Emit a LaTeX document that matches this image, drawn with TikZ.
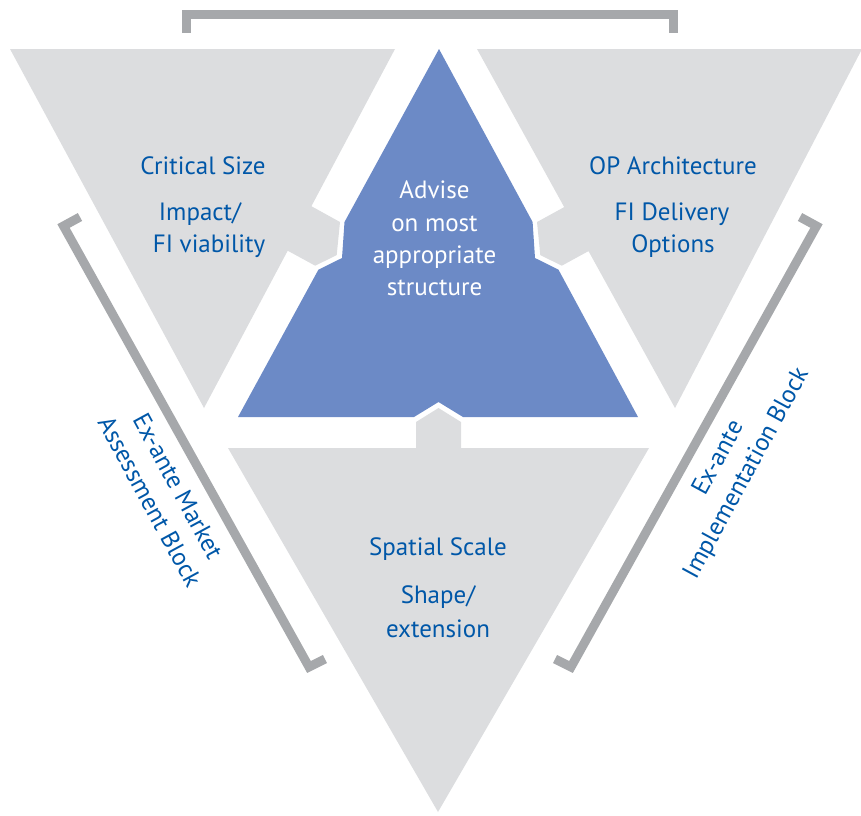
\documentclass[tikz,border=0pt]{standalone}
\usepackage{fontspec}
\setmainfont{PT Sans}
\definecolor{panelgray}{RGB}{220,221,223}
\definecolor{coreblue}{RGB}{108,138,198}
\definecolor{labelblue}{RGB}{0,87,168}
\definecolor{bracketgray}{RGB}{166,168,171}
\begin{document}
\begin{tikzpicture}[x=1pt,y=-1pt,
  panel/.style={fill=panelgray,draw=none},
  core/.style={fill=coreblue,draw=none},
  bracket/.style={draw=bracketgray,line width=9pt,line join=miter,line cap=butt},
  label/.style={text=labelblue,font=\fontsize{25}{32}\selectfont,inner sep=0pt,align=center},
  corelabel/.style={text=white,font=\fontsize{25}{32.3}\selectfont,inner sep=0pt,align=center}]
\useasboundingbox (0,0) rectangle (861,815);

% left panel with its tab
\fill[panel] (10,49) -- (395,49) -- (311.4,206.2) -- (340,222) -- (336.7,255.1)
  -- (315.2,265.7) -- (287.7,250.7) -- (204,408) -- cycle;
% right panel with its tab
\fill[panel] (477,49) -- (862,49) -- (675,408) -- (588.5,251.1) -- (561.8,265.7)
  -- (540.3,255.1) -- (537,222) -- (564.2,207.1) -- cycle;
% bottom panel with its tab
\fill[panel] (228,448) -- (416,448) -- (416,422) -- (438.5,408) -- (461,422)
  -- (461,448) -- (649,448) -- (438,812) -- cycle;
% central triangle with three notches
\fill[core] (439,49) -- (532.6,222) -- (535,258) -- (558.5,269.7) -- (638,417)
  -- (463,417) -- (438.5,402) -- (414,417) -- (238,417) -- (318.4,269.7)
  -- (342,258) -- (344.5,222) -- cycle;

% brackets
\coordinate (tl) at (186.5,33);
\coordinate (tr) at (673.5,33);
\draw[bracket] (tl) -- (186.5,14.5) -- (673.5,14.5) -- (tr);
\coordinate (la) at (80,217);
\coordinate (ld) at (325,659);
\draw[bracket] (la) -- (63.5,226) -- (309,667) -- (ld);
\coordinate (ra) at (800,217);
\coordinate (rd) at (555,659);
\draw[bracket] (ra) -- (816.5,226) -- (571,667) -- (rd);

% panel labels
\node[label] (cs) at (203,166) {Critical Size};
\node[label] (imp) at (200,214) {Impact/};
\node[label] (fiv) at (209,246) {FI viability};
\node[label] (opa) at (673,166) {OP Architecture};
\node[label] (fid) at (672,214) {FI Delivery};
\node[label] (opt) at (673,246) {Options};
\node[label] (ss) at (438,549) {Spatial Scale};
\node[label] (shp) at (438,597) {Shape/};
\node[label] (ext) at (438,629) {extension};
\node[corelabel] (adv) at (434.5,238.5) {Advise\\on most\\appropriate\\structure};

% block labels along the brackets
\node[label,rotate=-61.5] (mkt) at (164,494) {Ex-ante Market\\Assessment Block};
\node[label,rotate=61.5] (impl) at (733,466) {Ex-ante\\Implementation Block};
\end{tikzpicture}
\end{document}
